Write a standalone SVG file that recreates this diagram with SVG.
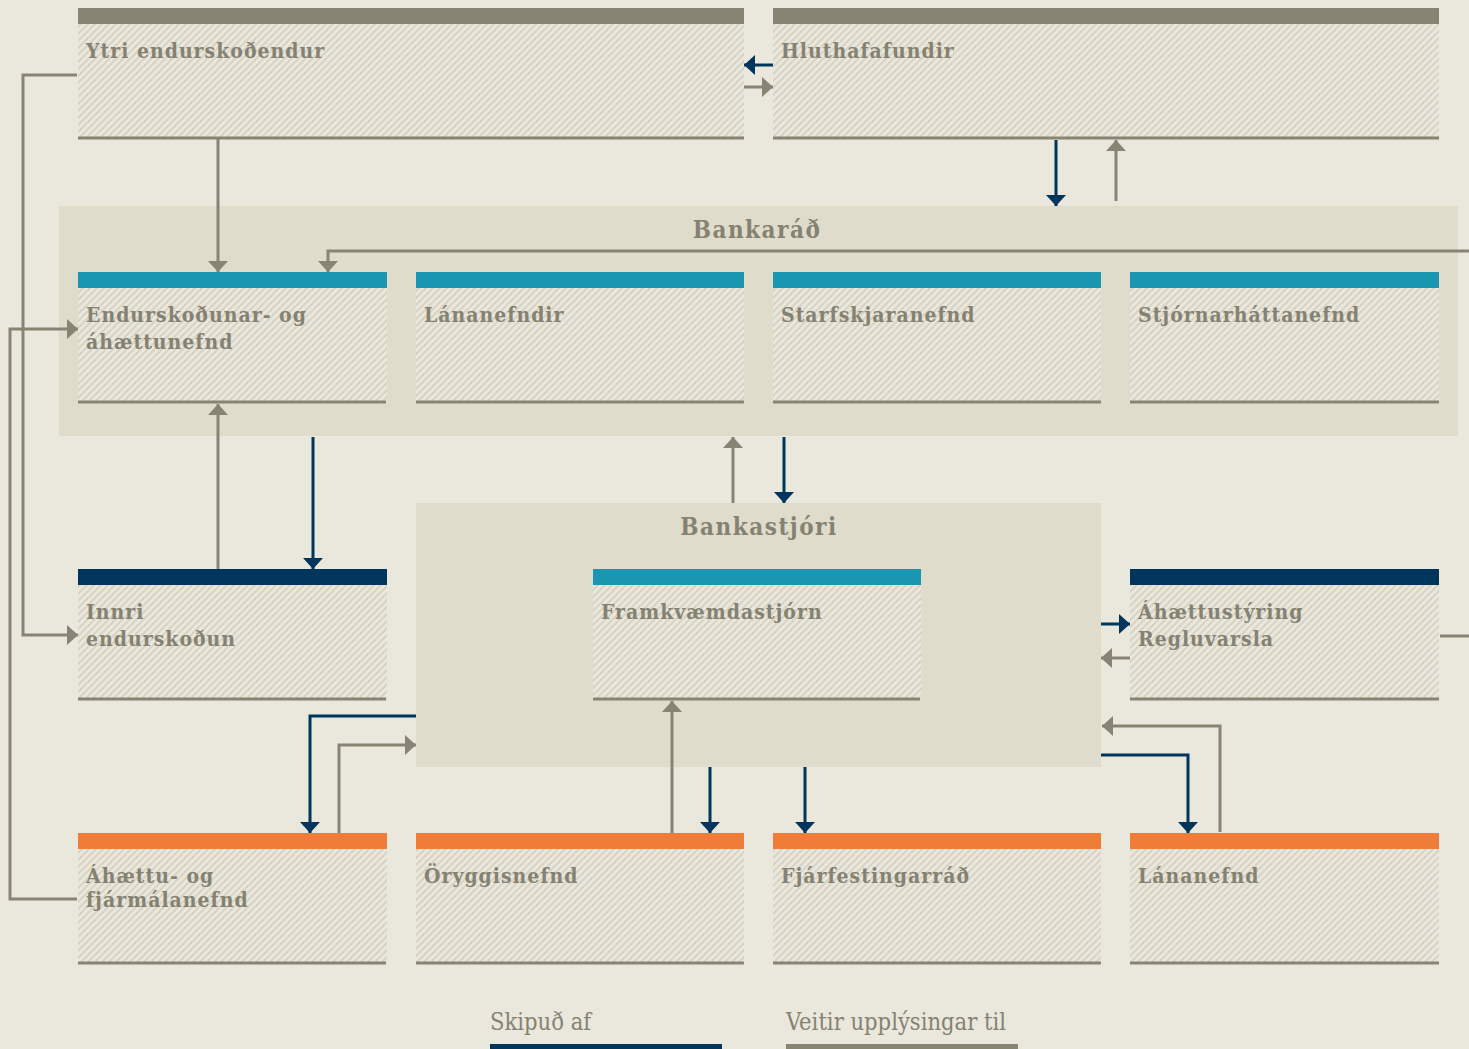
<svg xmlns="http://www.w3.org/2000/svg" width="1469" height="1049" viewBox="0 0 1469 1049">
<style>
.lbl{font-family:"DejaVu Serif","Liberation Serif",serif;font-stretch:condensed;font-weight:bold;font-size:21px;fill:#858272;letter-spacing:1px}
.ttl{font-family:"DejaVu Serif","Liberation Serif",serif;font-stretch:condensed;font-weight:bold;font-size:24px;fill:#858272;letter-spacing:1.5px}
.leg{font-family:"DejaVu Serif","Liberation Serif",serif;font-stretch:condensed;font-size:23.5px;fill:#858272}
.body{fill:url(#hatch)}
.base{stroke:#878474;stroke-width:3}
.g{fill:none;stroke:#878474;stroke-width:3}
.n{fill:none;stroke:#00365c;stroke-width:3}
</style>
<defs>
<pattern id="hatch" patternUnits="userSpaceOnUse" width="7" height="7">
<rect width="7" height="7" fill="#eae7dc"/>
<path d="M0,7 L7,0 M-1,1 L1,-1 M6,8 L8,6" stroke="#d7d4c6" stroke-width="2"/>
</pattern>
<marker id="ag" markerUnits="userSpaceOnUse" markerWidth="11" markerHeight="20" refX="11" refY="10" orient="auto"><path d="M0,0 L11,10 L0,20 z" fill="#878474"/></marker>
<marker id="an" markerUnits="userSpaceOnUse" markerWidth="11" markerHeight="20" refX="11" refY="10" orient="auto"><path d="M0,0 L11,10 L0,20 z" fill="#00365c"/></marker>
</defs>
<rect width="1469" height="1049" fill="#eae7dc"/>
<rect id="bankarad-panel" x="59" y="206" width="1399" height="230" fill="#dfdccb"/>
<rect id="bankastjori-panel" x="416" y="503" width="685" height="264" fill="#dfdccb"/>
<text class="ttl" x="757" y="238" text-anchor="middle">Bankaráð</text>
<text class="ttl" x="759" y="535" text-anchor="middle">Bankastjóri</text>

<g id="ytri"><rect class="body" x="78" y="24" width="666" height="114"/><rect x="78" y="8" width="666" height="16" fill="#878474"/><line class="base" x1="78" y1="138" x2="744" y2="138"/><text class="lbl" x="86" y="58">Ytri endurskoðendur</text></g>
<g id="hluthafafundir"><rect class="body" x="773" y="24" width="666" height="114"/><rect x="773" y="8" width="666" height="16" fill="#878474"/><line class="base" x1="773" y1="138" x2="1439" y2="138"/><text class="lbl" x="781" y="58">Hluthafafundir</text></g>

<g id="endurskodunar"><rect class="body" x="78" y="288" width="309" height="114"/><rect x="78" y="272" width="309" height="16" fill="#1a96b0"/><line class="base" x1="78" y1="402" x2="386" y2="402"/><text class="lbl" x="86" y="322">Endurskoðunar- og</text><text class="lbl" x="86" y="349">áhættunefnd</text></g>
<g id="lananefndir"><rect class="body" x="416" y="288" width="328" height="114"/><rect x="416" y="272" width="328" height="16" fill="#1a96b0"/><line class="base" x1="416" y1="402" x2="744" y2="402"/><text class="lbl" x="424" y="322">Lánanefndir</text></g>
<g id="starfskjaranefnd"><rect class="body" x="773" y="288" width="328" height="114"/><rect x="773" y="272" width="328" height="16" fill="#1a96b0"/><line class="base" x1="773" y1="402" x2="1101" y2="402"/><text class="lbl" x="781" y="322">Starfskjaranefnd</text></g>
<g id="stjornarhattanefnd"><rect class="body" x="1130" y="288" width="309" height="114"/><rect x="1130" y="272" width="309" height="16" fill="#1a96b0"/><line class="base" x1="1130" y1="402" x2="1439" y2="402"/><text class="lbl" x="1138" y="322">Stjórnarháttanefnd</text></g>

<g id="innri"><rect class="body" x="78" y="585" width="309" height="114"/><rect x="78" y="569" width="309" height="16" fill="#00365c"/><line class="base" x1="78" y1="699" x2="386" y2="699"/><text class="lbl" x="86" y="619">Innri</text><text class="lbl" x="86" y="646">endurskoðun</text></g>
<g id="framkvaemdastjorn"><rect class="body" x="593" y="585" width="328" height="114"/><rect x="593" y="569" width="328" height="16" fill="#1a96b0"/><line class="base" x1="593" y1="699" x2="920" y2="699"/><text class="lbl" x="601" y="619">Framkvæmdastjórn</text></g>
<g id="ahaettustyring"><rect class="body" x="1130" y="585" width="309" height="114"/><rect x="1130" y="569" width="309" height="16" fill="#00365c"/><line class="base" x1="1130" y1="699" x2="1439" y2="699"/><text class="lbl" x="1138" y="619">Áhættustýring</text><text class="lbl" x="1138" y="646">Regluvarsla</text></g>

<g id="ahaettu-fjarmala"><rect class="body" x="78" y="849" width="309" height="114"/><rect x="78" y="833" width="309" height="16" fill="#ef7d38"/><line class="base" x1="78" y1="963" x2="386" y2="963"/><text class="lbl" x="86" y="883">Áhættu- og</text><text class="lbl" x="86" y="907">fjármálanefnd</text></g>
<g id="oryggisnefnd"><rect class="body" x="416" y="849" width="328" height="114"/><rect x="416" y="833" width="328" height="16" fill="#ef7d38"/><line class="base" x1="416" y1="963" x2="744" y2="963"/><text class="lbl" x="424" y="883">Öryggisnefnd</text></g>
<g id="fjarfestingarrad"><rect class="body" x="773" y="849" width="328" height="114"/><rect x="773" y="833" width="328" height="16" fill="#ef7d38"/><line class="base" x1="773" y1="963" x2="1101" y2="963"/><text class="lbl" x="781" y="883">Fjárfestingarráð</text></g>
<g id="lananefnd"><rect class="body" x="1130" y="849" width="309" height="114"/><rect x="1130" y="833" width="309" height="16" fill="#ef7d38"/><line class="base" x1="1130" y1="963" x2="1439" y2="963"/><text class="lbl" x="1138" y="883">Lánanefnd</text></g>

<g id="connectors">
<path class="g" d="M218,139 V272" marker-end="url(#ag)"/>
<path class="g" d="M1469,251 H328 V272" marker-end="url(#ag)"/>
<path class="n" d="M773,65 H744" marker-end="url(#an)"/>
<path class="g" d="M744,87 H773" marker-end="url(#ag)"/>
<path class="n" d="M1056,140 V206" marker-end="url(#an)"/>
<path class="g" d="M1116,201 V140" marker-end="url(#ag)"/>
<path class="g" d="M77,75 H23 V635 H78" marker-end="url(#ag)"/>
<path class="g" d="M77,899 H10 V329 H78" marker-end="url(#ag)"/>
<path class="g" d="M218,569 V404" marker-end="url(#ag)"/>
<path class="n" d="M313,437 V569" marker-end="url(#an)"/>
<path class="g" d="M733,503 V437" marker-end="url(#ag)"/>
<path class="n" d="M784,437 V503" marker-end="url(#an)"/>
<path class="n" d="M1101,624 H1130" marker-end="url(#an)"/>
<path class="g" d="M1130,658 H1101" marker-end="url(#ag)"/>
<path class="g" d="M1440,636 H1469"/>
<path class="n" d="M416,716 H310 V833" marker-end="url(#an)"/>
<path class="g" d="M339,833 V745 H416" marker-end="url(#ag)"/>
<path class="g" d="M672,833 V701" marker-end="url(#ag)"/>
<path class="n" d="M710,767 V833" marker-end="url(#an)"/>
<path class="n" d="M805,767 V833" marker-end="url(#an)"/>
<path class="n" d="M1101,755 H1188 V833" marker-end="url(#an)"/>
<path class="g" d="M1220,832 V726 H1102" marker-end="url(#ag)"/>
</g>

<g id="legend">
<text class="leg" x="490" y="1030">Skipuð af</text>
<rect x="490" y="1044" width="232" height="5" fill="#00365c"/>
<text class="leg" x="786" y="1030">Veitir upplýsingar til</text>
<rect x="786" y="1044" width="232" height="5" fill="#878474"/>
</g>
</svg>
